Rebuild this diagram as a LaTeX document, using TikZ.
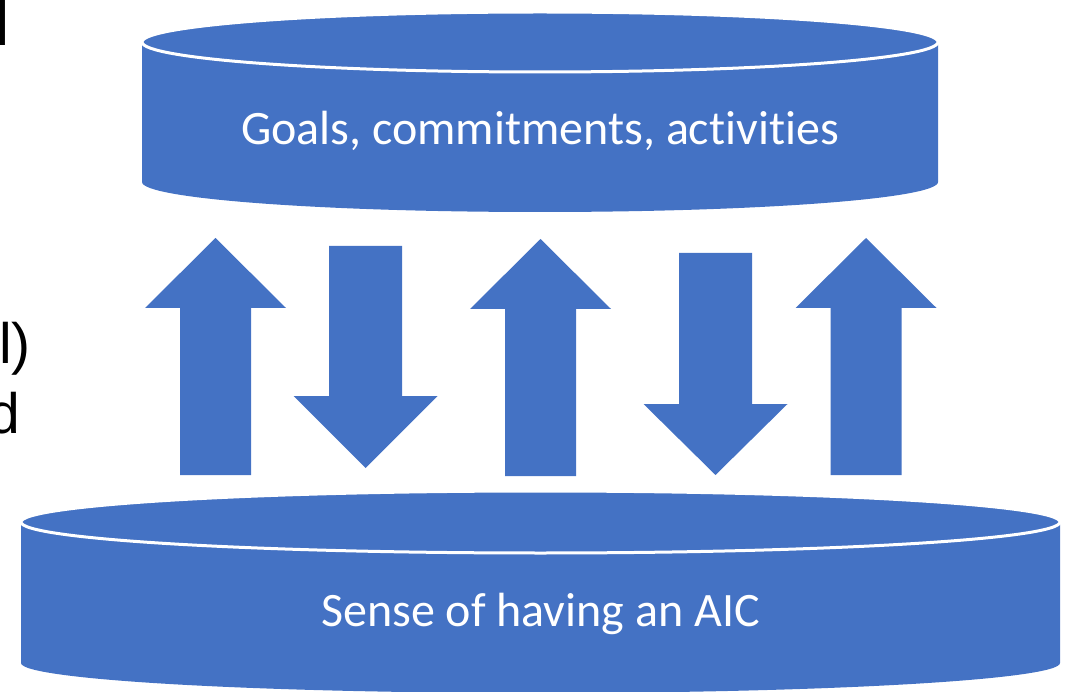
\documentclass[tikz,border=0pt]{standalone}
\usepackage{fontspec}
\setmainfont{Carlito}[Ligatures=NoCommon]
\newfontfamily\slidefont{Liberation Sans}
\definecolor{aicblue}{HTML}{4472C4}

\begin{document}
\begin{tikzpicture}[x=1pt,y=-1pt,
	disk text/.style={text=white,font=\fontsize{48}{58}\selectfont,inner sep=0pt,anchor=base},
	cut text/.style={font=\slidefont\fontsize{57}{68}\selectfont,inner sep=0pt,anchor=base east}]
	\clip (0,0) rectangle (1068,692);
	% cut-off slide text on the left
	\node[cut text,font=\slidefont\fontsize{64}{76}\selectfont] (cutA) at (9.9,46) {l};
	\node[cut text] (cutB) at (31,363) {l)};
	\node[cut text] (cutC) at (20.7,433) {d};
	% top disk
	\fill[aicblue] (142,42) -- (142,182) arc[start angle=180,end angle=0,x radius=398,y radius=30] -- (938,42) -- cycle;
	\filldraw[fill=aicblue,draw=white,line width=3pt] (540,42) ellipse[x radius=398,y radius=30];
	\node[disk text] (goals) at (540,145) {Goals, commitments, activities};
	% bottom disk
	\fill[aicblue] (21,522) -- (21,663) arc[start angle=180,end angle=0,x radius=519.5,y radius=30] -- (1060,522) -- cycle;
	\filldraw[fill=aicblue,draw=white,line width=3pt] (540.5,522) ellipse[x radius=519.5,y radius=31];
	\node[disk text] (sense) at (540.5,626) {Sense of having an AIC};
	% block arrows
	\foreach \cx/\tip/\base/\bot in {215.5/238/308/475, 540.5/239/309/476, 866/238/308/475}
		\fill[aicblue] (\cx-35.5,\bot) -- (\cx-35.5,\base) -- (\cx-70.5,\base) -- (\cx,\tip)
			-- (\cx+70.5,\base) -- (\cx+35.5,\base) -- (\cx+35.5,\bot) -- cycle;
	\foreach \cx/\top/\base/\tip in {365.5/246/396/468, 715.5/253/404/475}
		\fill[aicblue] (\cx-36.5,\top) -- (\cx-36.5,\base) -- (\cx-72,\base) -- (\cx,\tip)
			-- (\cx+72,\base) -- (\cx+36.5,\base) -- (\cx+36.5,\top) -- cycle;
\end{tikzpicture}
\end{document}
